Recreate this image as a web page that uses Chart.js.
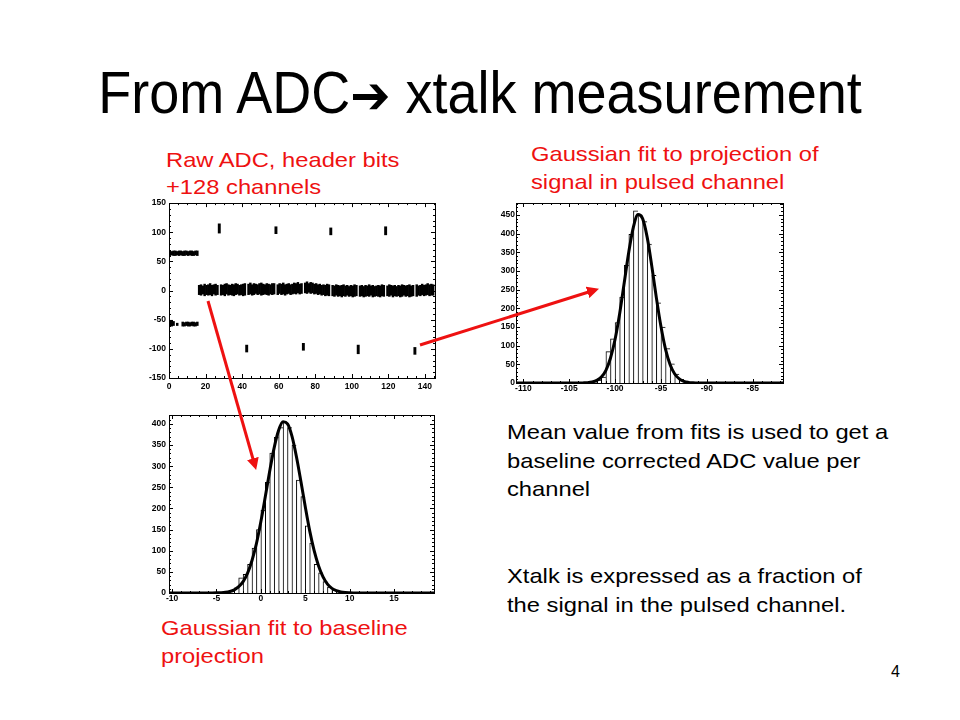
<!DOCTYPE html>
<html>
<head>
<meta charset="utf-8">
<script src="https://cdn.jsdelivr.net/npm/chart.js@4.4.1/dist/chart.umd.min.js"></script>
<style>
  body { margin: 0; background: #fff; }
  #slide { position: relative; width: 960px; height: 720px; overflow: hidden; font-family: "Liberation Sans", Arial, sans-serif; }
  .txt { position: absolute; font-size: 21px; line-height: 28px; white-space: nowrap; transform: scaleX(1.13); transform-origin: 0 0; }
  .red { color: #ee1111; }
  canvas { position: absolute; }
  #title { position: absolute; left: 0; width: 960px; top: 63px; text-align: center; font-size: 54px; line-height: 54px; transform: scaleY(1.08); transform-origin: 0 0; }
  #title .arr { font-family: "DejaVu Sans", sans-serif; font-size: 48px; font-weight: bold; }
  #arrows { position: absolute; left: 0; top: 0; }
</style>
</head>
<body>
<div id="slide">
  <div id="title">From ADC<span class="arr">➔</span> xtalk measurement</div>

  <div class="txt red" style="left:166px; top:146px; line-height:27px">Raw ADC, header bits<br>+128 channels</div>
  <div class="txt red" style="left:531px; top:140px; line-height:28px">Gaussian fit to projection of<br>signal in pulsed channel</div>
  <div class="txt red" style="left:161px; top:614px; line-height:28px">Gaussian fit to baseline<br>projection</div>
  <div class="txt" style="left:507px; top:418px; line-height:28.5px">Mean value from fits is used to get a<br>baseline corrected ADC value per<br>channel</div>
  <div class="txt" style="left:507px; top:562px; line-height:28.5px">Xtalk is expressed as a fraction of<br>the signal in the pulsed channel.</div>
  <div class="txt" style="left:891px; top:664px; font-size:16px; line-height:16px; transform:none">4</div>

  <canvas id="raw" width="325" height="200" style="left:125px; top:195px"></canvas>
  <canvas id="pulsed" width="320" height="210" style="left:480px; top:195px"></canvas>
  <canvas id="base" width="325" height="205" style="left:125px; top:405px"></canvas>

  <svg id="arrows" width="960" height="720">
    <defs>
      <marker id="head" markerWidth="4" markerHeight="4" refX="2.6" refY="2" orient="auto" markerUnits="strokeWidth">
        <path d="M0,0 L4,2 L0,4 z" fill="#ee1111"/>
      </marker>
    </defs>
    <line x1="208" y1="301" x2="255" y2="466" stroke="#ee1111" stroke-width="3" marker-end="url(#head)"/>
    <line x1="420" y1="345" x2="595" y2="290" stroke="#ee1111" stroke-width="3" marker-end="url(#head)"/>
  </svg>
</div>

<script>
// ---------- raw ADC per channel (floating min/max per channel) ----------
const headerCh = [0, 1, 2, 3, 4, 5, 6, 7, 8, 9, 10, 11, 12, 13, 14, 15];
const headerHighLo = [60, 61, 60, 60, 61, 60, 61, 60, 60, 61, 60, 61, 60, 60, 61, 60];
const headerHighHi = [68, 67, 68, 68, 67, 68, 68, 67, 68, 68, 67, 68, 68, 67, 68, 68];

const headerLowCh = [0, 1, 2, 4, 7, 8, 9, 10, 11, 12, 13, 14, 15];
const headerLowLo = [-61, -61, -60, -60, -61, -61, -60, -61, -61, -60, -61, -61, -60];
const headerLowHi = [-51, -51, -53, -56, -54, -55, -54, -54, -55, -54, -54, -55, -54];

const pulsedCh = [27, 42, 58, 73, 88, 103, 118, 134];
const pulsedLo = [98, -106, 97, -103, 95, -109, 95, -110];
const pulsedHi = [115, -93, 110, -90, 108, -93, 110, -97];

// baseline band, channels 16..144
const baseFirstCh = 16;
const baseHi = [
  9, 10, 8, 11, 9, 10, 12, 9, 10, 11, 9, 10,
  10, 9, 11, 12, 10, 9, 11, 10, 12, 11, 9, 10, 11, 12, 11,
  11, 13, 10, 12, 11, 10, 12, 13, 11, 10, 12, 11, 10, 12, 12,
  11, 10, 12, 11, 13, 10, 11, 12, 10, 11, 13, 12, 14, 11, 12, 12,
  13, 15, 12, 14, 13, 11, 12, 10, 11, 9, 10, 9, 11, 10, 9,
  9, 8, 10, 9, 8, 9, 10, 8, 9, 7, 9, 8, 10, 9, 8,
  8, 9, 7, 9, 8, 10, 8, 9, 7, 8, 9, 8, 10, 9, 8,
  8, 10, 9, 8, 9, 7, 9, 8, 10, 9, 8, 9, 10, 8, 9,
  9, 10, 8, 9, 11, 9, 10, 12, 10, 11, 10
];
const baseLo = [
  -7, -8, -6, -9, -7, -8, -7, -9, -6, -8, -7, -8,
  -8, -7, -9, -6, -8, -7, -8, -9, -7, -6, -8, -7, -9, -8, -7,
  -7, -6, -8, -7, -5, -7, -6, -8, -7, -6, -7, -8, -6, -7, -6,
  -6, -7, -5, -7, -6, -8, -6, -5, -7, -6, -5, -6, -4, -6, -5, -5,
  -4, -5, -3, -5, -4, -6, -5, -7, -6, -8, -7, -9, -8, -9, -9,
  -9, -10, -8, -10, -9, -11, -9, -10, -8, -10, -9, -11, -10, -9, -10,
  -10, -9, -11, -10, -9, -10, -8, -11, -10, -9, -10, -11, -9, -10, -9,
  -9, -10, -8, -11, -9, -10, -9, -11, -10, -8, -10, -9, -11, -10, -9,
  -9, -10, -8, -9, -7, -9, -8, -7, -9, -8, -8
];

// ---------- pulsed channel projection ----------
const pulsedBinX = [-103.25, -102.75, -102.25, -101.75, -101.25, -100.75, -100.25, -99.75, -99.25, -98.75,
  -98.25, -97.75, -97.25, -96.75, -96.25, -95.75, -95.25, -94.75, -94.25, -93.75, -93.25, -92.75, -92.25, -91.75];
const pulsedCounts = [1, 2, 4, 8, 16, 84, 118, 162, 230, 315, 398, 461, 450, 432, 372, 288, 215, 150, 92, 51, 24, 10, 4, 1];
const pulsedFitX = [-110.8, -104, -103.5, -103, -102.5, -102, -101.5, -101, -100.5, -100, -99.5, -99, -98.5, -98,
  -97.5, -97, -96.5, -96, -95.5, -95, -94.5, -94, -93.5, -93, -92.5, -92, -91.5, -91, -81.7];
const pulsedFitY = [0, 0, 0.3, 0.9, 2.7, 6.9, 16, 34, 67, 117, 186, 269, 352, 418,
  451, 440, 390, 313, 228, 151, 90, 49, 24, 11, 4.4, 1.6, 0.5, 0, 0];

// ---------- baseline projection ----------
const baseBinX = [-4.25, -3.75, -3.25, -2.75, -2.25, -1.75, -1.25, -0.75, -0.25, 0.25, 0.75, 1.25, 1.75, 2.25,
  2.75, 3.25, 3.75, 4.25, 4.75, 5.25, 5.75, 6.25, 6.75, 7.25, 7.75, 8.25, 8.75, 9.25, 9.75];
const baseCounts = [1, 2, 5, 12, 36, 44, 68, 106, 150, 196, 262, 331, 368, 391,
  404, 391, 350, 267, 228, 159, 118, 68, 48, 27, 14, 7, 3, 1, 1];
const baseFitX = [-10.35, -6, -5.5, -5, -4.5, -4, -3.5, -3, -2.5, -2, -1.5, -1, -0.5, 0, 0.5, 1, 1.5, 2, 2.5,
  3, 3.5, 4, 4.5, 5, 5.5, 6, 6.5, 7, 7.5, 8, 8.5, 9, 9.5, 10, 10.5, 11, 19.5];
const baseFitY = [0, 0, 0.1, 0.3, 0.7, 1.6, 3.6, 7.5, 15, 27, 47, 77, 117, 169, 228, 289, 344, 385, 405,
  400, 371, 323, 265, 204, 147, 100, 64, 38, 21, 11, 5.6, 2.6, 1.1, 0.5, 0.2, 0, 0];

// ---------- ROOT style frame with inward ticks ----------
const rootFrame = {
  id: 'rootFrame',
  afterDatasetsDraw(chart, args, opts) {
    const { ctx, chartArea: a, scales } = chart;
    ctx.save();
    ctx.strokeStyle = '#000';
    ctx.lineWidth = 1;
    ctx.strokeRect(Math.round(a.left) + 0.5, Math.round(a.top) + 0.5, Math.round(a.width), Math.round(a.height));
    const ticks = (scale, step, len) => {
      const start = Math.ceil(scale.min / step - 1e-9);
      const end = Math.floor(scale.max / step + 1e-9);
      ctx.beginPath();
      for (let i = start; i <= end; i++) {
        const p = Math.round(scale.getPixelForValue(i * step)) + 0.5;
        if (scale.isHorizontal()) {
          ctx.moveTo(p, a.bottom); ctx.lineTo(p, a.bottom - len);
          ctx.moveTo(p, a.top); ctx.lineTo(p, a.top + len);
        } else {
          ctx.moveTo(a.left, p); ctx.lineTo(a.left + len, p);
          ctx.moveTo(a.right, p); ctx.lineTo(a.right - len, p);
        }
      }
      ctx.stroke();
    };
    ticks(scales.x, opts.xMinor, 2);
    ticks(scales.x, opts.xMajor, 4);
    ticks(scales.y, opts.yMinor, 2);
    ticks(scales.y, opts.yMajor, 4);
    ctx.restore();
  }
};

const tickFont = { family: '"Liberation Sans", Arial, sans-serif', size: 8.5, weight: 'bold' };

function axes(xmin, xmax, xstep, ymin, ymax, ystep, yWidth, xHeight, yPad, xPad) {
  return {
    x: {
      type: 'linear', min: xmin, max: xmax, offset: false,
      grid: { display: false, drawTicks: false }, border: { display: false },
      ticks: { stepSize: xstep, includeBounds: false, font: tickFont, color: '#000', padding: xPad, maxRotation: 0, autoSkip: false },
      afterFit: s => { s.height = xHeight; }
    },
    y: {
      type: 'linear', min: ymin, max: ymax,
      grid: { display: false, drawTicks: false }, border: { display: false },
      ticks: { stepSize: ystep, includeBounds: false, font: tickFont, color: '#000', padding: yPad, autoSkip: false },
      afterFit: s => { s.width = yWidth; }
    }
  };
}

function baseOptions(scales, padding, frame) {
  return {
    responsive: false,
    animation: false,
    events: [],
    layout: { padding },
    scales,
    plugins: { legend: { display: false }, tooltip: { enabled: false }, rootFrame: frame }
  };
}

const floatStyle = { type: 'bar', backgroundColor: '#000', borderWidth: 0, grouped: false,
  barPercentage: 1, categoryPercentage: 1 };

// build raw ADC bars from the arrays
const headerHighPts = headerCh.map((c, i) => ({ x: c + 0.5, y: [headerHighLo[i], headerHighHi[i]] }));
const headerLowPts = headerLowCh.map((c, i) => ({ x: c + 0.5, y: [headerLowLo[i], headerLowHi[i]] }));
const pulsedPts = pulsedCh.map((c, i) => ({ x: c + 0.5, y: [pulsedLo[i], pulsedHi[i]] }));
const basePts = [];
baseHi.forEach((h, i) => {
  const ch = baseFirstCh + i;
  if (pulsedCh.includes(ch)) return;
  basePts.push({ x: ch + 0.5, y: [baseLo[i], h] });
});

new Chart(document.getElementById('raw'), {
  type: 'bar',
  data: {
    datasets: [
      { ...floatStyle, data: headerHighPts },
      { ...floatStyle, data: headerLowPts },
      { ...floatStyle, data: basePts },
      { ...floatStyle, data: pulsedPts, barPercentage: 1.6 }
    ]
  },
  options: baseOptions(axes(0, 145.5, 20, -150, 150, 50, 44, 17, 3, 4),
    { left: 0, top: 7, right: 15, bottom: 0 },
    { xMajor: 20, xMinor: 5, yMajor: 50, yMinor: 10 }),
  plugins: [rootFrame]
});

function histChart(id, binX, counts, fitX, fitY, scales, padding, frame) {
  new Chart(document.getElementById(id), {
    type: 'bar',
    data: {
      datasets: [
        {
          type: 'line',
          data: fitX.map((x, i) => ({ x, y: fitY[i] })),
          borderColor: '#000', borderWidth: 3, pointRadius: 0,
          cubicInterpolationMode: 'monotone', fill: false
        },
        {
          type: 'bar',
          data: binX.map((x, i) => ({ x, y: counts[i] })),
          backgroundColor: '#fff', borderColor: '#000',
          borderWidth: { left: 1, top: 1, right: 0, bottom: 0 }, borderSkipped: false,
          barPercentage: 1, categoryPercentage: 1, grouped: false
        }
      ]
    },
    options: baseOptions(scales, padding, frame),
    plugins: [rootFrame]
  });
}

histChart('pulsed', pulsedBinX, pulsedCounts, pulsedFitX, pulsedFitY,
  axes(-110.8, -81.7, 5, 0, 482, 50, 36, 22, 1, 1),
  { left: 0, top: 8, right: 17, bottom: 0 },
  { xMajor: 5, xMinor: 1, yMajor: 50, yMinor: 10 });

histChart('base', baseBinX, baseCounts, baseFitX, baseFitY,
  axes(-10.35, 19.5, 5, 0, 421, 50, 44, 17, 3, 1),
  { left: 0, top: 10, right: 16, bottom: 0 },
  { xMajor: 5, xMinor: 1, yMajor: 50, yMinor: 10 });
</script>
</body>
</html>
